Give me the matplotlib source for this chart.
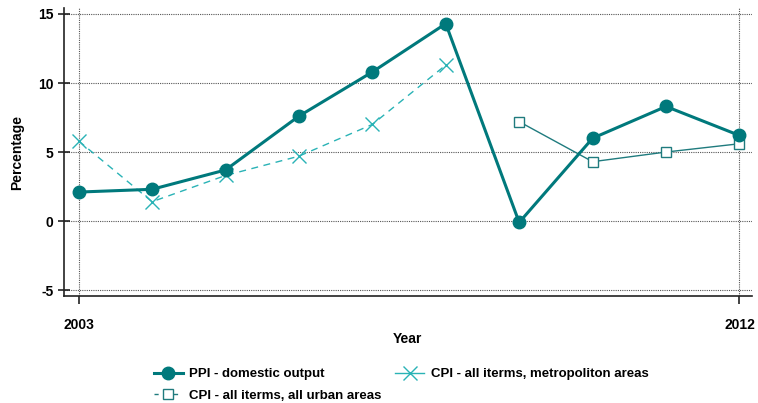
import numpy as np
import matplotlib
matplotlib.use("Agg")
import matplotlib.pyplot as plt
from matplotlib.lines import Line2D

plt.rcParams['font.family'] = ['Liberation Sans', 'DejaVu Sans']
plt.rcParams['font.weight'] = 'bold'
plt.rcParams['axes.unicode_minus'] = False

# Données
annees = np.arange(2003, 2013)
ppi = [2.1, 2.3, 3.7, 7.6, 10.8, 14.3, -0.1, 6.0, 8.3, 6.2]
cpi_metro = [5.8, 1.4, 3.3, 4.7, 7.0, 11.3, np.nan, np.nan, np.nan, np.nan]
cpi_urbain = [np.nan, np.nan, np.nan, np.nan, np.nan, np.nan, 7.2, 4.3, 5.0, 5.6]

c_ppi = '#00797c'
c_metro = '#2ab3b6'
c_urbain = '#1f7b7e'

fig = plt.figure(figsize=(7.58, 4.03), dpi=100)
ax = fig.add_axes([0.0844, 0.2655, 0.9076, 0.7145])

ax.plot(annees, cpi_metro, color=c_metro, lw=1.0, ls=(0, (5, 4)),
        marker='x', ms=10, mew=1.0)
ax.plot(annees, cpi_urbain, color=c_urbain, lw=1.0,
        marker='s', ms=7, mfc='white', mec=c_urbain, mew=1.0)
ax.plot(annees, ppi, color=c_ppi, lw=2.2, marker='o', ms=9)

ax.set_xlim(2002.8, 2012.17)
ax.set_ylim(-5.43, 15.43)
ax.set_xticks([2003, 2012])
ax.set_yticks([-5, 0, 5, 10, 15])
ax.grid(True, color='#555555', ls=(0, (1, 1)), lw=0.8)
ax.set_axisbelow(True)
for s in ['top', 'right']:
    ax.spines[s].set_visible(False)
ax.spines['left'].set_color('#222222')
ax.spines['bottom'].set_color('#222222')
ax.spines['left'].set_linewidth(1.2)
ax.spines['bottom'].set_linewidth(1.2)
ax.tick_params(axis='both', labelsize=10, color='#222222', width=1.2, length=6)
ax.tick_params(axis='x', pad=10)
ax.tick_params(axis='y', direction='inout', length=8)

ax.set_xlabel("Year", fontsize=10, fontweight='bold', labelpad=0)
ax.set_ylabel("Percentage", fontsize=10, fontweight='bold', labelpad=10)

handles = [
    Line2D([], [], color=c_ppi, lw=2.2, marker='o', ms=9),
    Line2D([], [], color=c_urbain, lw=1.0, ls=(0, (3, 4)), marker='s', ms=7,
           mfc='white', mec=c_urbain),
    Line2D([], [], color=c_metro, lw=1.0, marker='x', ms=10),
]
labels = ["PPI - domestic output", "CPI - all iterms, all urban areas",
          "CPI - all iterms, metropoliton areas"]
fig.legend(handles, labels, loc='upper left', bbox_to_anchor=(0.203, 0.087),
           ncol=2, frameon=False, fontsize=9.5, handlelength=2.2,
           handletextpad=0.5, columnspacing=1.0, labelspacing=0.7,
           borderpad=0, borderaxespad=0)

fig.savefig("out.png", dpi=100)
